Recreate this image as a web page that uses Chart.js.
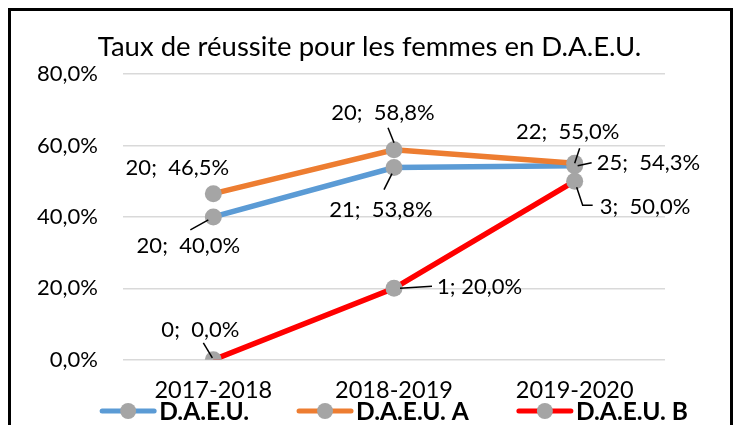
<!DOCTYPE html>
<html lang="fr">
<head>
<meta charset="UTF-8">
<title>Taux de réussite pour les femmes en D.A.E.U.</title>
<script src="https://cdn.jsdelivr.net/npm/chart.js"></script>
<style>
  html, body { margin: 0; padding: 0; background: #fff; overflow: hidden; }
  #wrap { position: relative; width: 739px; height: 425px; }
  #frame { position: absolute; left: 8px; top: 8px; width: 719px; height: 500px;
           border: 3px solid #000; pointer-events: none; }
</style>
</head>
<body>
<div id="wrap">
  <canvas id="chart" width="739" height="425"></canvas>
  <div id="frame"></div>
</div>
<script>
// données
const annees = ['2017-2018', '2018-2019', '2019-2020'];
const seriesNoms = ['D.A.E.U.', 'D.A.E.U. A', 'D.A.E.U. B'];
const tauxDaeu  = [40.0, 53.8, 54.3];
const tauxDaeuA = [46.5, 58.8, 55.0];
const tauxDaeuB = [0.0, 20.0, 50.0];
const effDaeu  = [20, 21, 25];
const effDaeuA = [20, 20, 22];
const effDaeuB = [0, 1, 3];

const couleurs = ['#5B9BD5', '#ED7D31', '#FF0000'];
const gris = '#A5A5A5';
const police = 'Lato, "Liberation Sans", sans-serif';

// position des étiquettes par rapport au point (dx, dy, alignement, trait de rappel)
const etiquettes = [
  [ {dx: -25, dy: 29, align: 'center', lead: [[-23, 13], [-5, 3]]},
    {dx: -13, dy: 42, align: 'center', lead: [[-10, 22], [-2, 6]]},
    {dx: 22, dy: -3, align: 'left', lead: [[3, 0], [17, -3]]} ],
  [ {dx: -36, dy: -26, align: 'center', lead: null},
    {dx: -11, dy: -37, align: 'center', lead: [[-6, -22], [0, -7]]},
    {dx: -7, dy: -31, align: 'center', lead: [[5, -15], [0, 0]]} ],
  [ {dx: -13, dy: -30, align: 'center', lead: [[-10, -17], [-1, -2]]},
    {dx: 43, dy: -1, align: 'left', lead: [[6, 0], [38, -2]], sep: '; '},
    {dx: 25, dy: 26, align: 'left', lead: [[2, 6], [8, 24], [18, 24]]} ]
];

function pct(v) {
  return v.toFixed(1).replace('.', ',') + '%';
}

const valeurs = [tauxDaeu, tauxDaeuA, tauxDaeuB];
const effectifs = [effDaeu, effDaeuA, effDaeuB];

const etiquettesPlugin = {
  id: 'etiquettes',
  afterDatasetsDraw(chart) {
    const ctx = chart.ctx;
    ctx.save();
    ctx.font = '22px ' + police;
    ctx.fillStyle = '#000';
    ctx.strokeStyle = '#000';
    ctx.lineWidth = 1.5;
    ctx.textBaseline = 'middle';
    chart.data.datasets.forEach((ds, i) => {
      const meta = chart.getDatasetMeta(i);
      meta.data.forEach((pt, j) => {
        const e = etiquettes[i][j];
        if (e.lead) {
          ctx.beginPath();
          e.lead.forEach(([lx, ly], k) => {
            if (k === 0) ctx.moveTo(pt.x + lx, pt.y + ly);
            else ctx.lineTo(pt.x + lx, pt.y + ly);
          });
          ctx.stroke();
        }
        ctx.textAlign = e.align;
        const txt = effectifs[i][j] + (e.sep || ';  ') + pct(valeurs[i][j]);
        ctx.fillText(txt, pt.x + e.dx, pt.y + e.dy);
      });
    });
    ctx.restore();
  }
};

// légende dessinée à la main : trait + rond gris + texte gras
const legendePlugin = {
  id: 'legende',
  afterDraw(chart) {
    const ctx = chart.ctx;
    const area = chart.chartArea;
    const y = 411, trait = 56, ecart = 48;
    ctx.save();
    ctx.font = 'bold 24.5px ' + police;
    ctx.textBaseline = 'middle';
    ctx.textAlign = 'left';
    const largeurs = chart.data.datasets.map(ds => trait + 3 + ctx.measureText(ds.label).width);
    const total = largeurs.reduce((a, b) => a + b, 0) + ecart * (largeurs.length - 1);
    let x = (area.left + area.right) / 2 - total / 2;
    chart.data.datasets.forEach((ds, i) => {
      ctx.strokeStyle = ds.borderColor;
      ctx.lineWidth = 5;
      ctx.lineCap = 'round';
      ctx.beginPath();
      ctx.moveTo(x + 2, y); ctx.lineTo(x + trait - 2, y);
      ctx.stroke();
      ctx.fillStyle = gris;
      ctx.beginPath();
      ctx.arc(x + trait / 2, y, 8, 0, Math.PI * 2);
      ctx.fill();
      ctx.fillStyle = '#000';
      ctx.fillText(ds.label, x + trait + 3, y + 1);
      x += largeurs[i] + ecart;
    });
    ctx.restore();
  }
};

const fondPlugin = {
  id: 'fond',
  beforeDraw(chart) {
    const ctx = chart.ctx;
    ctx.save();
    ctx.fillStyle = '#fff';
    ctx.fillRect(0, 0, chart.width, chart.height);
    ctx.restore();
  }
};

new Chart(document.getElementById('chart'), {
  type: 'line',
  data: {
    labels: annees,
    datasets: valeurs.map((v, i) => ({
      label: seriesNoms[i],
      data: v,
      borderColor: couleurs[i],
      backgroundColor: couleurs[i],
      borderWidth: 5.5,
      pointRadius: 8.5,
      pointHoverRadius: 8.5,
      pointBackgroundColor: gris,
      pointBorderWidth: 0,
      pointStyle: 'circle',
      tension: 0,
      order: 3 - i
    }))
  },
  options: {
    responsive: false,
    animation: false,
    layout: { padding: { left: 0, right: 0, top: 31, bottom: 11 } },
    plugins: {
      title: {
        display: true,
        text: 'Taux de réussite pour les femmes en D.A.E.U.',
        color: '#000',
        font: { family: police, size: 27.5, weight: 'normal' },
        padding: { top: 0, bottom: 10 }
      },
      legend: { display: false },
      tooltip: { enabled: false }
    },
    scales: {
      x: {
        offset: true,
        grid: { display: false },
        border: { display: false },
        ticks: { color: '#000', padding: 9, font: { family: police, size: 23.5 } }
      },
      y: {
        min: 0,
        max: 80,
        afterFit(scale) { scale.width = 123; },
        grid: { color: '#D9D9D9', lineWidth: 1.5, drawTicks: false },
        border: { display: false },
        ticks: {
          stepSize: 20,
          padding: 25,
          color: '#000',
          font: { family: police, size: 22 },
          callback: v => pct(v)
        }
      },
      // marge droite (axe vide)
      marge: {
        type: 'linear',
        position: 'right',
        afterFit(scale) { scale.width = 74; },
        grid: { display: false },
        border: { display: false },
        ticks: { display: false }
      }
    }
  },
  plugins: [fondPlugin, etiquettesPlugin, legendePlugin]
});
</script>
</body>
</html>
